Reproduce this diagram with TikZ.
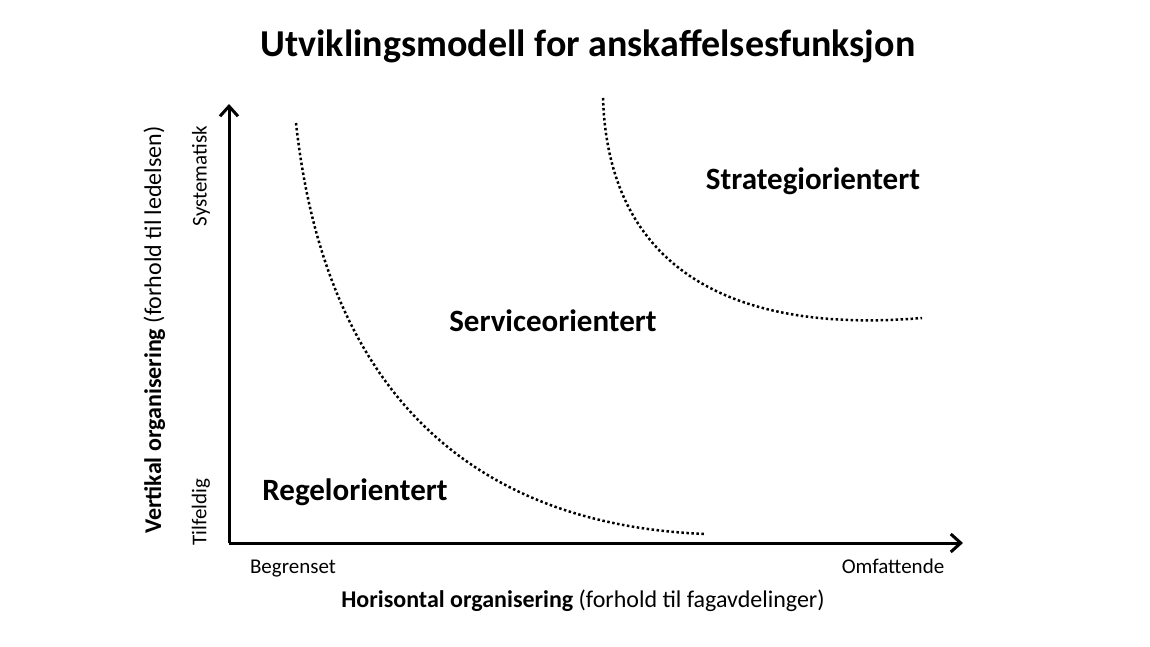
\documentclass[tikz,border=0pt]{standalone}
\usepackage{fontspec}
\usetikzlibrary{arrows.meta}
\setmainfont{Carlito}
\begin{document}
\begin{tikzpicture}[x=1pt,y=-1pt,
  lbl/.style={font=\fontsize{21}{24}\selectfont},
  region/.style={font=\bfseries\fontsize{31}{34}\selectfont},
  curve/.style={line width=2.5pt,dash pattern=on 2.5pt off 2.5pt},
  axis/.style={line width=3pt,-{Straight Barb[length=10pt,width=18pt,line width=3pt]}}]
\useasboundingbox (0,0) rectangle (1150,647);
\node (title) at (588,46) {\bfseries\fontsize{38}{42}\selectfont Utviklingsmodell for anskaffelsesfunksjon};
\coordinate (o) at (229,543);
\coordinate (yt) at (229,104);
\coordinate (xt) at (963,543);
\draw[axis] (o) -- (yt);
\draw[axis] (o) -- (xt);
\node[lbl,rotate=90] (sys) at (201,176) {Systematisk};
\node[lbl,rotate=90] (til) at (201,512) {Tilfeldig};
\node[lbl,anchor=base] (beg) at (293,573) {Begrenset};
\node[lbl,anchor=base] (omf) at (893,573) {Omfattende};
\node[font=\fontsize{24}{28}\selectfont,anchor=base] (hx) at (583,607) {\textbf{Horisontal organisering} (forhold til fagavdelinger)};
\node[rotate=90,font=\fontsize{24}{28}\selectfont,anchor=base] (vy) at (161,330) {\textbf{Vertikal organisering} (forhold til ledelsen)};
\node[region] (str) at (813,181) {Strategiorientert};
\node[region] (ser) at (553,321) {Serviceorientert};
\node[region] (reg) at (355,492) {Regelorientert};
\coordinate (c1a) at (296,123);
\coordinate (c1b) at (706,534);
\coordinate (c2a) at (603,98);
\coordinate (c2b) at (922,318);
\draw[curve] (c1a) .. controls (325,390) and (470,525) .. (c1b);
\draw[curve] (c2a) .. controls (608,260) and (720,335) .. (c2b);
\end{tikzpicture}
\end{document}
